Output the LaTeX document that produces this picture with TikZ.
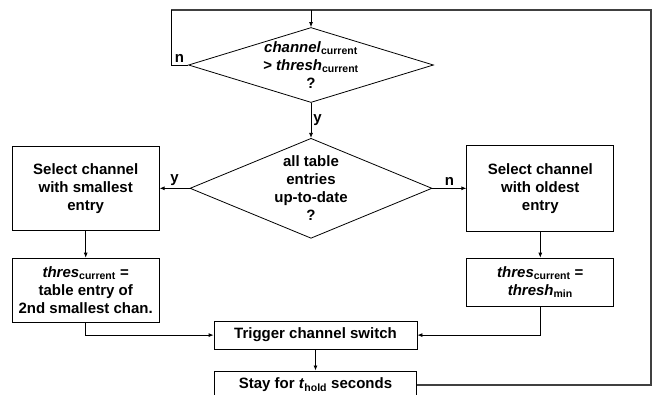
\documentclass[tikz,border=0pt]{standalone}
\usepackage{fontspec}
\setmainfont{Liberation Sans}
\usetikzlibrary{arrows.meta,positioning,shapes.geometric}

\begin{document}
\begin{tikzpicture}[
  x=1pt,y=-1pt,
  font=\fontsize{15}{18}\selectfont\bfseries,
  line width=0.8pt,
  box/.style={draw,align=center,minimum width=147pt,inner sep=2pt},
  dec/.style={draw,diamond,align=center,inner sep=-6pt},
  arr/.style={-{Latex[length=5pt,width=4pt]}},
  fb/.style={line width=1.2pt,black!75},
  lbl/.style={inner sep=2pt}
]
\useasboundingbox (0,0) rectangle (653,394);
\node[dec,aspect=3.27,minimum width=245pt,minimum height=75pt] (cmp) at (311,65)
  {\textit{channel}\textsubscript{current}\\> \textit{thresh}\textsubscript{current}\\?};
\node[dec,aspect=2.42,minimum width=242pt,minimum height=100pt,below=35pt of cmp] (uptodate)
  {all table\\entries\\up-to-date\\?};
\node[box,minimum height=84pt,left=30pt of uptodate] (selsmall) {Select channel\\with smallest\\entry};
\node[box,minimum height=86pt,right=34pt of uptodate] (selold) {Select channel\\with oldest\\entry};
\node[box,minimum height=64pt,below=27pt of selsmall] (thrsmall)
  {\textit{thres}\textsubscript{current} =\\table entry of\\2nd smallest chan.};
\node[box,minimum height=48pt,below=26pt of selold] (throld)
  {\textit{thres}\textsubscript{current} =\\\textit{thresh}\textsubscript{min}};
\node[box,minimum width=203pt,minimum height=28pt,below=82pt of uptodate,xshift=4.5pt] (trigger) {Trigger channel switch};
\node[box,minimum width=202pt,minimum height=28pt,below=21pt of trigger] (stay)
  {Stay for \textit{t}\textsubscript{hold} seconds};
% feedback loop
\coordinate (tl) at (171,10);
\coordinate (tr) at (651,10);
\draw[fb] (stay.east) -| (tr) -- (tl);
\draw (cmp.west) -- node[lbl,above]{n} (cmp.west -| tl) -- (tl);
\draw[arr] (cmp.north |- tl) -- (cmp.north);
\draw[arr] (cmp.south) -- node[lbl,right]{y} (uptodate.north);
\draw[arr] (uptodate.west) -- node[lbl,above]{y} (selsmall.east);
\draw[arr] (uptodate.east) -- node[lbl,above]{n} (selold.west);
\draw[arr] (selsmall) -- (thrsmall);
\draw[arr] (selold) -- (throld);
\draw[arr] (thrsmall.south) |- (trigger.west);
\draw[arr] (throld.south) |- (trigger.east);
\draw[arr] (trigger) -- (stay);
\end{tikzpicture}
\end{document}
